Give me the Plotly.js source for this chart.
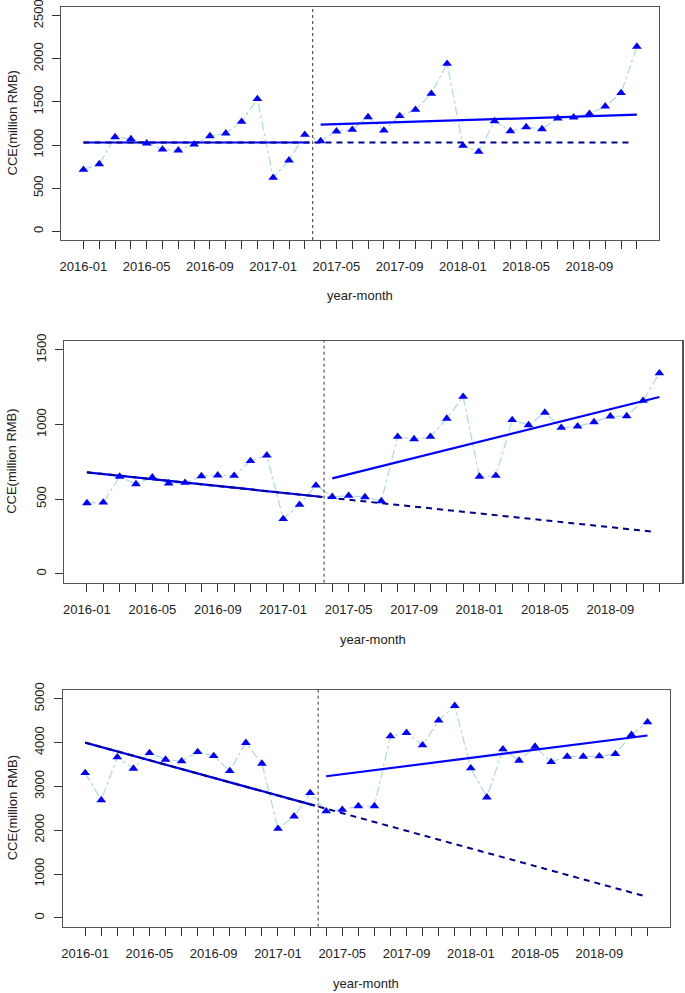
<!DOCTYPE html>
<html>
<head>
<meta charset="utf-8">
<script src="https://cdn.plot.ly/plotly-3.0.1.min.js"></script>
<style>html,body{margin:0;padding:0;background:#fff;}#chart{width:685px;height:993px;}</style>
</head>
<body>
<div id="chart"></div>
<script>
// ---- data ----
const months = ["2016-01","2016-02","2016-03","2016-04","2016-05","2016-06","2016-07","2016-08","2016-09","2016-10","2016-11","2016-12",
                "2017-01","2017-02","2017-03","2017-04","2017-05","2017-06","2017-07","2017-08","2017-09","2017-10","2017-11","2017-12",
                "2018-01","2018-02","2018-03","2018-04","2018-05","2018-06","2018-07","2018-08","2018-09","2018-10","2018-11","2018-12"];
const tickLabelMonths = ["2016-01","2016-05","2016-09","2017-01","2017-05","2017-09","2018-01","2018-05","2018-09"];

const cce1 = [715,780,1093,1070,1020,950,939,1008,1105,1136,1271,1534,622,823,1120,1047,
              1159,1178,1325,1170,1337,1410,1596,1943,993,923,1279,1163,1209,1186,1310,1321,1364,1449,1604,2141];
const cce2 = [474,478,651,601,646,606,610,655,660,657,756,794,367,463,592,516,
              523,514,487,919,903,919,1040,1187,651,657,1031,997,1080,979,988,1017,1055,1057,1160,1344];
const cce3 = [3308,2690,3666,3407,3765,3613,3575,3788,3697,3354,3994,3521,2035,2317,2851,2435,
              2470,2553,2553,4146,4223,3941,4505,4840,3415,2752,3849,3590,3910,3559,3681,3681,3689,3742,4177,4466];

// fitted trend lines (month index positions and values)
const preFitX  = [0, 14.3];
const postFitX = [15, 35];
const cfX      = [0, 34.7];
const interruption = 14.5;

const preFit1 = [1030, 1030], postFit1 = [1236, 1352], cf1 = [1030, 1030];
const preFit2 = [680, 516],   postFit2 = [639, 1185],  cf2 = [680, 281];
const preFit3 = [4000, 2561], postFit3 = [3232, 4162], cf3 = [4000, 509];

const yTicks1 = [0,500,1000,1500,2000,2500];
const yTicks2 = [0,500,1000,1500];
const yTicks3 = [0,1000,2000,3000,4000,5000];

// ---- geometry (pixels) ----
const W = 685, H = 993;
const panels = [
  {cce:cce1, pre:preFit1, post:postFit1, cf:cf1, ticks:yTicks1, yr:[-100,2600], L:61.3, R:659, T:7, B:240, xt:295},
  {cce:cce2, pre:preFit2, post:postFit2, cf:cf2, ticks:yTicks2, yr:[-60,1560],  L:64,   R:682.3, T:341, B:582.7, xt:639},
  {cce:cce3, pre:preFit3, post:postFit3, cf:cf3, ticks:yTicks3, yr:[-200,5200], L:62.7, R:670, T:690, B:926.7, xt:983}
];

const idx = months.map((m,i)=>i);
const ticktext = months.map(m => tickLabelMonths.includes(m) ? m : "");
const font = {family:"Liberation Sans, Arial, sans-serif", size:13, color:"#222"};

const data = [];
const layout = {
  width:W, height:H, margin:{l:0,r:0,t:0,b:0},
  paper_bgcolor:"#fff", plot_bgcolor:"#fff",
  showlegend:false, font:font, shapes:[], annotations:[]
};

panels.forEach((p,k)=>{
  const n = k+1;
  const xa = "x"+(n===1?"":n), ya = "y"+(n===1?"":n);
  // observed series
  data.push({x:idx, y:p.cce, xaxis:xa, yaxis:ya, type:"scatter", mode:"lines",
             line:{color:"#add8e6", width:1.2, dash:"dashdot"}, hoverinfo:"skip"});
  // pre fit
  data.push({x:preFitX, y:p.pre, xaxis:xa, yaxis:ya, type:"scatter", mode:"lines",
             line:{color:"#0000ff", width:2.2}});
  // counterfactual
  data.push({x:cfX, y:p.cf, xaxis:xa, yaxis:ya, type:"scatter", mode:"lines",
             line:{color:"#00008b", width:2, dash:"6px,5px"}});
  // post fit
  data.push({x:postFitX, y:p.post, xaxis:xa, yaxis:ya, type:"scatter", mode:"lines",
             line:{color:"#0000ff", width:2.2}});
  // markers
  data.push({x:idx, y:p.cce, xaxis:xa, yaxis:ya, type:"scatter", mode:"markers",
             marker:{symbol:"triangle-up", color:"#0000ff", size:8.5, line:{width:0}}});

  const xkey = "xaxis"+(n===1?"":n), ykey = "yaxis"+(n===1?"":n);
  layout[xkey] = {
    domain:[p.L/W, p.R/W], anchor:ya, range:[-1.4,36.4],
    tickmode:"array", tickvals:idx, ticktext:ticktext,
    ticks:"outside", ticklen:8, tickwidth:1, tickcolor:"#333",
    showline:true, mirror:true, linecolor:"#555", linewidth:1.2,
    showgrid:false, zeroline:false, tickfont:font, tickangle:0, ticklabelstandoff:6,
    ticklabeloverflow:"allow"
  };
  layout[ykey] = {
    domain:[1-p.B/H, 1-p.T/H], anchor:xa, range:p.yr,
    tickmode:"array", tickvals:p.ticks, ticktext:p.ticks.map(String),
    ticks:"outside", ticklen:8, tickwidth:1, tickcolor:"#333",
    showline:true, mirror:true, linecolor:"#555", linewidth:1.2,
    showgrid:false, zeroline:false, tickfont:font, tickangle:-90, ticklabelstandoff:4,
    ticklabeloverflow:"allow"
  };
  layout.shapes.push({type:"line", xref:xa, yref:ya+" domain", x0:interruption, x1:interruption, y0:0, y1:1,
                      line:{color:"#333", width:1, dash:"dot"}});
  layout.annotations.push({text:"year-month", xref:"paper", yref:"paper",
    x:(p.L+p.R)/2/W, y:1-p.xt/H, xanchor:"center", yanchor:"middle", showarrow:false, font:font});
  layout.annotations.push({text:"CCE(million RMB)", xref:"paper", yref:"paper", textangle:-90,
    x:12/W, y:1-(p.T+p.B)/2/H, xanchor:"center", yanchor:"middle", showarrow:false, font:font});
});

Plotly.newPlot("chart", data, layout, {displayModeBar:false, staticPlot:true});
</script>
</body>
</html>
